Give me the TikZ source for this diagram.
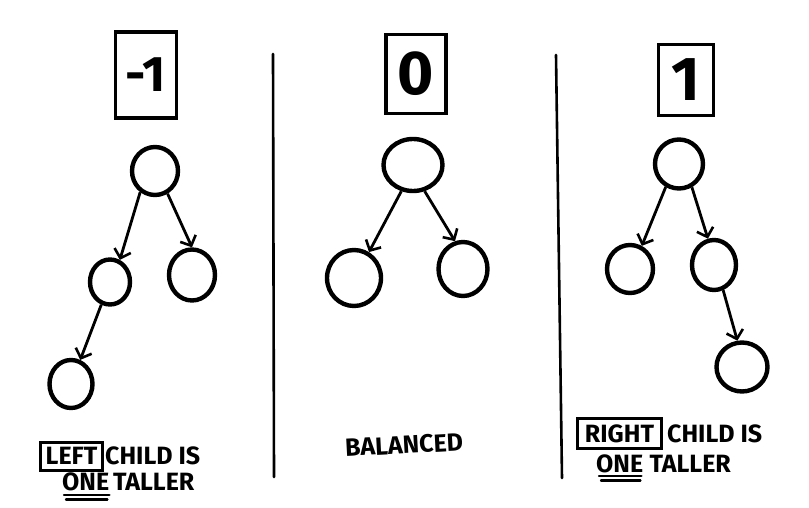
\documentclass[tikz,border=0pt]{standalone}
\usepackage{fontspec}
\setmainfont{Fira Sans}
\usepackage{tikz}
\usetikzlibrary{arrows.meta, shapes, positioning}
\tikzset{
    valuenode/.style = {draw, rectangle, line width=3.5pt, inner sep = 0em, font=\bfseries},
    treenode/.style = {draw, ellipse, line width=4.4pt, inner sep = 0em},
    wordnode/.style = {draw=none, fill=none, rectangle, inner sep = 0em, font=\fontsize{25}{27}\selectfont\bfseries},
    boxwordnode/.style = {draw, rectangle, line width=3pt, inner sep = 0em, font=\fontsize{25}{27}\selectfont\bfseries},
    divider/.style = {line width=2.6pt, line cap=round},
    underline/.style = {line width=2.4pt, line cap=round},
    connect/.style = {black, line width=2.8pt, -{Straight Barb[length=8pt, width=17pt, line width=2.6pt]}}
}

\begin{document}
\begin{tikzpicture}[x=1pt, y=-1pt]
    \useasboundingbox (0,0) rectangle (809,508);

    % balance factors
    \node [name=val1, valuenode, minimum width=61pt, minimum height=86pt,
        font=\fontsize{50}{50}\selectfont\bfseries] at (146,75) {-1};
    \node [name=val0, valuenode, minimum width=60pt, minimum height=79pt,
        font=\fontsize{62}{62}\selectfont\bfseries] at (416,74) {0};
    \node [name=val2, valuenode, minimum width=55pt, minimum height=71pt,
        font=\fontsize{62}{62}\selectfont\bfseries] at (686,80) {1};

    % dividers
    \coordinate (div1top) at (273,54);
    \coordinate (div1bot) at (274,477);
    \coordinate (div2top) at (556,55);
    \coordinate (div2bot) at (562,478);
    \draw [divider] (div1top) -- (div1bot);
    \draw [divider] (div2top) -- (div2bot);

    % left heavy tree
    \node [name=root1, treenode, minimum width=46pt, minimum height=48pt] at (155,171) {};
    \node [name=left1, treenode, minimum width=40pt, minimum height=45pt] at (110,282) {};
    \node [name=right1, treenode, minimum width=46pt, minimum height=51pt] at (192,275) {};
    \node [name=leftleft1, treenode, minimum width=43pt, minimum height=48pt] at (71,384) {};
    \draw [connect] (root1.235) -- (left1.66);
    \draw [connect] (root1.299) -- (right1.90);
    \draw [connect] (left1.249) -- (leftleft1.69);

    % balanced tree
    \node [name=root2, treenode, minimum width=59pt, minimum height=52pt] at (413,165) {};
    \node [name=left2, treenode, minimum width=54pt, minimum height=56pt] at (354,278) {};
    \node [name=right2, treenode, minimum width=49pt, minimum height=54pt] at (463,269) {};
    \draw [connect] (root2.246) -- (left2.60);
    \draw [connect] (root2.294) -- (right2.106);

    % right heavy tree
    \node [name=root3, treenode, minimum width=48pt, minimum height=49pt] at (679,164) {};
    \node [name=left3, treenode, minimum width=46pt, minimum height=48pt] at (630,269) {};
    \node [name=right3, treenode, minimum width=44pt, minimum height=50pt] at (714,265) {};
    \node [name=rightright3, treenode, minimum width=51pt, minimum height=49pt] at (742,367) {};
    \draw [connect] (root3.240) -- (left3.63);
    \draw [connect] (root3.299) -- (right3.103);
    \draw [connect] (right3.290) -- (rightright3.100);

    % captions
    \node [name=leftword, boxwordnode, minimum width=62pt, minimum height=28pt] at (71.5,456) {LEFT};
    \node [name=childl, wordnode, right=0.1em of leftword] {CHILD IS};
    \node [name=onel, wordnode, anchor=south west] at (62,491) {ONE};
    \node [name=tallerl, wordnode, right=0.35em of onel] {TALLER};
    \draw [underline] ([xshift=2pt, yshift=-4pt]onel.south west) -- ([yshift=-4pt]onel.south east);
    \draw [underline] ([xshift=4pt, yshift=-8.5pt]onel.south west) -- ([xshift=-2pt, yshift=-8.5pt]onel.south east);

    \node [name=balanced, wordnode, rotate=3] at (404,445) {BALANCED};

    \node [name=rightword, boxwordnode, minimum width=84pt, minimum height=30pt] at (619.5,433.5) {RIGHT};
    \node [name=childr, wordnode, right=0.4em of rightword] {CHILD IS};
    \node [name=oner, wordnode, anchor=south west] at (596,473) {ONE};
    \node [name=tallerr, wordnode, right=0.6em of oner] {TALLER};
    \draw [underline] ([xshift=3pt, yshift=-3pt]oner.south west) -- ([xshift=-2pt, yshift=-3pt]oner.south east);
    \draw [underline] ([xshift=5pt, yshift=-7.5pt]oner.south west) -- ([xshift=-3pt, yshift=-7.5pt]oner.south east);
\end{tikzpicture}
\end{document}
